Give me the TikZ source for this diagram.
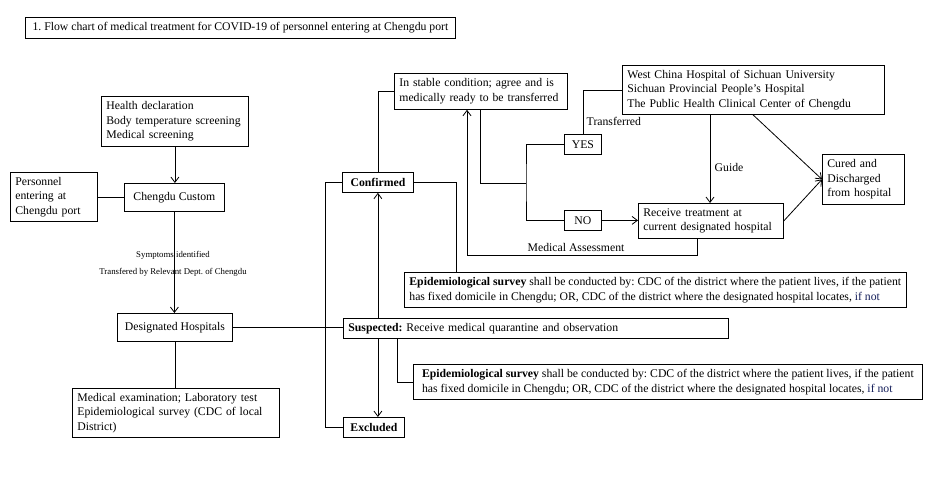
\documentclass[tikz,border=0pt]{standalone}
\usepackage{fontspec}
\setmainfont{Liberation Serif}
\usetikzlibrary{shapes,arrows,positioning,calc,arrows.meta}
\definecolor{notblue}{RGB}{20,30,90}
\frenchspacing

\begin{document}
\begin{tikzpicture}[x=0.75pt,y=-0.75pt,line width=0.6pt,
    box/.style={draw, line width=0.6pt, anchor=north west, inner xsep=3.75pt, inner ysep=1pt,
      font=\fontsize{8.8}{10.9}\selectfont},
    lbox/.style 2 args={box, align=left, text width=(#1-10)*0.75pt, minimum height=#2*0.75pt},
    cbox/.style 2 args={box, align=center, minimum width=#1*0.75pt, minimum height=#2*0.75pt},
    nbox/.style={box, align=left, minimum height=35*0.75pt},
    lbl/.style={font=\fontsize{8.8}{10.9}\selectfont, inner sep=1pt},
    tinylbl/.style={font=\fontsize{6.6}{8}\selectfont, inner sep=0pt},
    arr/.style={-{Straight Barb[length=4pt,width=6pt]}}]
        \fill[white] (0,0) rectangle (930,496);
        \useasboundingbox (0,0) rectangle (930,496);

        \node[cbox={430}{21}] (title) at (25,17) {1. Flow chart of medical treatment for COVID-19 of personnel entering at Chengdu port};

        % left column
        \node[lbox={147}{50}] (health) at (101,96) {Health declaration\\Body temperature screening\\Medical screening};
        \node[lbox={87}{49}] (port) at (10,172) {Personnel\\entering at\\Chengdu port};
        \node[cbox={100}{28}] (custom) at (124,183) {Chengdu Custom};
        \node[cbox={115}{28}] (desig) at (117,313) {Designated Hospitals};
        \node[lbox={207}{49}] (exam) at (72,388) {Medical examination; Laboratory test\\Epidemiological survey (CDC of local\\District)};
        \node[tinylbl] (symp) at (173,255) {Symptoms identified};
        \node[tinylbl] (trans) at (173,272) {Transfered by Relevant Dept. of Chengdu};

        % diagnosis
        \node[cbox={71}{20}] (conf) at (342,172) {\textbf{Confirmed}};
        \node[lbox={385}{20}] (susp) at (343,318) {\textbf{Suspected:} Receive medical quarantine and observation};
        \node[cbox={61}{20}] (excl) at (343,417) {\textbf{Excluded}};
        \node[nbox] (epia) at (404,272) {\textbf{Epidemiological survey} shall be conducted by: CDC of the district where the patient lives, if the patient\\has fixed domicile in Chengdu; OR, CDC of the district where the designated hospital locates, \textcolor{notblue}{if not}};
        \node[nbox, minimum width=509*0.75pt] (epib) at (413,364) {\textbf{Epidemiological survey} shall be conducted by: CDC of the district where the patient lives, if the patient\\has fixed domicile in Chengdu; OR, CDC of the district where the designated hospital locates, \textcolor{notblue}{if not}};

        % treatment
        \node[lbox={173}{36}] (stable) at (394,73) {In stable condition; agree and is\\medically ready to be transferred};
        \node[cbox={37}{20}] (yes) at (564,134) {YES};
        \node[cbox={37}{20}] (no) at (564,210) {NO};
        \node[lbox={262}{49}] (west) at (622,65) {West China Hospital of Sichuan University\\Sichuan Provincial People's Hospital\\The Public Health Clinical Center of Chengdu};
        \node[lbox={145}{35}] (treat) at (638,203) {Receive treatment at\\current designated hospital};
        \node[lbox={82}{50}] (cured) at (822,154) {Cured and\\Discharged\\from hospital};
        \node[lbl, anchor=west] (trlbl) at (585,121) {Transferred};
        \node[lbl, anchor=west] (guide) at (713,167) {Guide};
        \node[lbl] (assesslbl) at (576,247) {Medical Assessment};

        \coordinate (split) at (526,183);
        \coordinate (assess) at (467,255);

        \draw (port.east) -- (port.east -| custom.west);
        \draw[arr] (health.south) -- (health.south |- custom.north);
        \draw[arr] (custom.south) -- (custom.south |- desig.north);
        \draw (desig.south) -- (desig.south |- exam.north);
        \draw (desig.east) -- (desig.east -| susp.west);

        \draw (conf.west) -- ++(-17,0) |- (excl.west);
        \draw[arr] (conf.south |- susp.north) -- (conf.south);
        \draw[arr] (conf.south |- susp.south) -- (conf.south |- excl.north);
        \draw (conf.east) -| ($(epia.north west)+(52,0)$);
        \draw ($(susp.south west)+(54,0)$) |- (epib.west);

        \draw (conf.north) |- (stable.west);
        \draw ($(stable.south west)+(86,0)$) |- (split);
        \draw (yes.west) -| (split) |- (no.west);
        \draw[arr] (no.east) -- (no.east -| treat.west);
        \draw (yes.north) |- (west.west);
        \draw[arr] ($(west.south west)+(88,0)$) -- ($(treat.north west)+(72,0)$);
        \draw[arr] ($(west.south west)+(131,0)$) -- (cured.west);
        \draw[arr] (treat.east) -- (cured.west);
        \draw[arr] ($(treat.south west)+(59,0)$) |- (assess) -- ($(stable.south west)+(73,0)$);
    \end{tikzpicture}
\end{document}
